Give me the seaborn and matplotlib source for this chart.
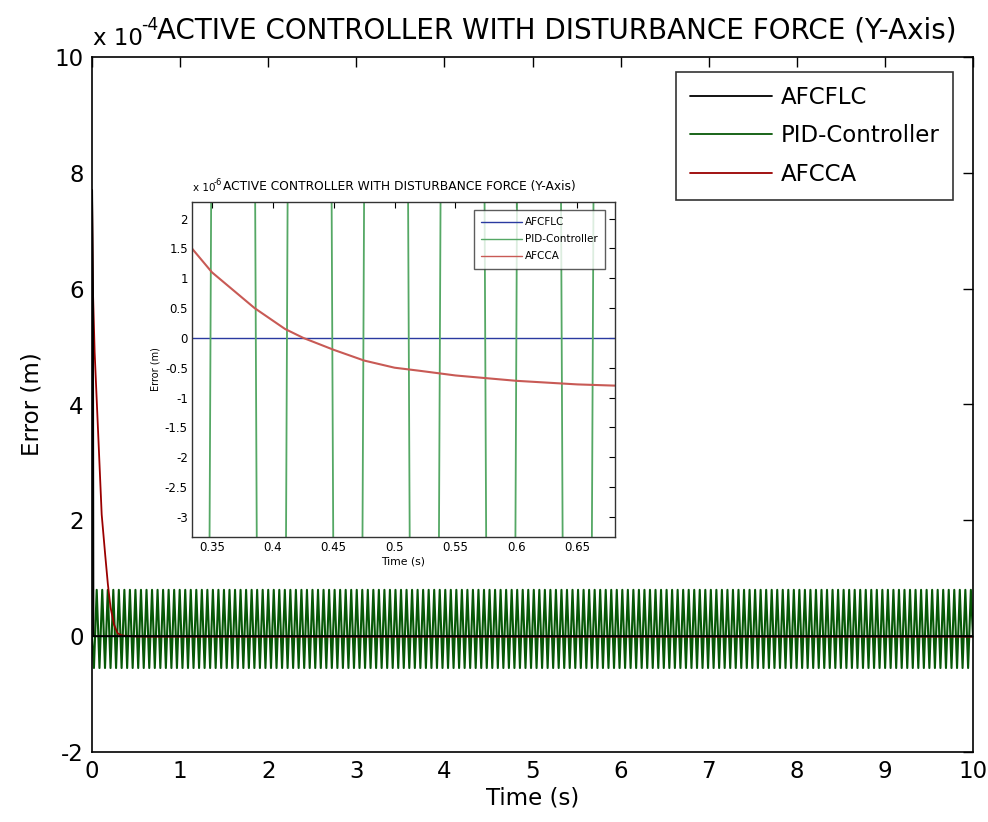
import numpy as np
import pandas as pd
import matplotlib
matplotlib.use("Agg")
import matplotlib.pyplot as plt
from matplotlib.lines import Line2D
from matplotlib.ticker import FuncFormatter
import seaborn as sns

# ---------------- data (values in metres) ----------------
afcflc_t = [0.0, 0.01, 0.015, 10.0]
afcflc_v = [7.7e-4, 6.0e-4, 0.0, 0.0]

afcca_t = [0.0, 0.01, 0.03, 0.05, 0.07, 0.09, 0.11, 0.13, 0.15, 0.18, 0.21,
           0.25, 0.29, 0.3336, 0.35, 0.385, 0.41, 0.425, 0.45, 0.475, 0.5,
           0.52, 0.55, 0.6, 0.65, 0.68, 1.0, 2.0, 10.0]
afcca_v = [7.7e-4, 6.0e-4, 4.9e-4, 4.2e-4, 3.5e-4, 2.8e-4, 2.1e-4, 1.75e-4,
           1.4e-4, 0.9e-4, 0.5e-4, 0.2e-4, 0.05e-4, 1.5e-6, 1.1e-6, 0.5e-6,
           0.15e-6, 0.0, -0.2e-6, -0.38e-6, -0.5e-6, -0.55e-6, -0.63e-6,
           -0.72e-6, -0.78e-6, -0.8e-6, -0.85e-6, -0.85e-6, -0.85e-6]

# PID-controller oscillation: peak / trough levels,
# period and the time of the first trough
pid_peak = 0.8e-4
pid_trough = -0.55e-4
pid_period = 0.0628
pid_first_trough = 0.022
t_end = 10.0

labels = ["AFCFLC", "PID-Controller", "AFCCA"]
main_colors = ["#000000", "#075807", "#9a0000"]
inset_colors = ["#2a3aa0", "#55a865", "#c85a55"]

x_ticks = list(range(0, 11))
y_ticks = [-2e-4, 0, 2e-4, 4e-4, 6e-4, 8e-4, 10e-4]
inset_x_ticks = [0.35, 0.4, 0.45, 0.5, 0.55, 0.6, 0.65]
inset_y_ticks = [-3e-6, -2.5e-6, -2e-6, -1.5e-6, -1e-6, -0.5e-6, 0, 0.5e-6,
                 1e-6, 1.5e-6, 2e-6]

# ---------------- build tables ----------------
troughs = np.arange(pid_first_trough, t_end, pid_period)
pid_t = [0.0]
pid_v = [0.0]
for tr in troughs:
    pid_t += [tr, tr + pid_period / 2]
    pid_v += [pid_trough, pid_peak]
pid_t.append(t_end)
pid_v.append(0.0)

df_flc = pd.DataFrame({"t": afcflc_t, "v": afcflc_v})
df_ca = pd.DataFrame({"t": afcca_t, "v": afcca_v})
df_pid = pd.DataFrame({"t": pid_t, "v": pid_v})

# ---------------- style ----------------
sns.set_theme(style="white")
plt.rcParams["font.family"] = ["DejaVu Sans"]
plt.rcParams["xtick.direction"] = "in"
plt.rcParams["ytick.direction"] = "in"
plt.rcParams["text.color"] = "black"
plt.rcParams["axes.labelcolor"] = "black"
plt.rcParams["xtick.color"] = "black"
plt.rcParams["ytick.color"] = "black"

fig = plt.figure(figsize=(9.88, 8.22), dpi=100)
fig.patch.set_facecolor("white")

ax = fig.add_axes([92 / 988, 1 - 752 / 822, (973 - 92) / 988, (752 - 57) / 822])

kw = dict(estimator=None, sort=False, legend=False)
sns.lineplot(data=df_pid, x="t", y="v", ax=ax, color=main_colors[1], lw=1.5, **kw)
sns.lineplot(data=df_ca, x="t", y="v", ax=ax, color=main_colors[2], lw=1.3, **kw)
sns.lineplot(data=df_flc, x="t", y="v", ax=ax, color=main_colors[0], lw=1.5, **kw)

ax.set_xlim(0, 10)
ax.set_ylim(-2e-4, 10e-4)
ax.set_xticks(x_ticks)
ax.set_yticks(y_ticks)
ax.yaxis.set_major_formatter(FuncFormatter(lambda v, p: f"{v * 1e4:g}"))
ax.tick_params(axis="both", which="major", labelsize=16.5, length=7, width=1,
               top=True, right=True, pad=6, colors="black")
for s in ax.spines.values():
    s.set_color("black")
    s.set_linewidth(1.2)
ax.set_xlabel("Time (s)", fontsize=16.5, labelpad=2)
ax.set_ylabel("Error (m)", fontsize=16.5, labelpad=8)

handles = [Line2D([], [], color=c, lw=1.3) for c in main_colors]
leg = ax.legend(handles, labels, loc="upper right", fontsize=16.5,
                bbox_to_anchor=(1 - 20 / 881, 1 - 15 / 695), borderaxespad=0,
                frameon=True, fancybox=False, edgecolor="black",
                handlelength=3.6, handletextpad=0.35, borderpad=0.6,
                labelspacing=0.68)
leg.get_frame().set_linewidth(1.2)
for t in leg.get_texts():
    t.set_color("black")

fig.text(93 / 988, 1 - 45 / 822, "x 10", fontsize=16.5, ha="left", va="baseline")
fig.text(141 / 988, 1 - 30 / 822, "-4", fontsize=12.5, ha="left", va="baseline")
fig.text(157 / 988, 1 - 38 / 822,
         "ACTIVE CONTROLLER WITH DISTURBANCE FORCE (Y-Axis)",
         fontsize=20, ha="left", va="baseline")

# ---------------- inset ----------------
ia = fig.add_axes([192 / 988, 1 - 537 / 822, (615 - 192) / 988, (537 - 202) / 822])
sns.lineplot(data=df_flc, x="t", y="v", ax=ia, color=inset_colors[0], lw=1.0, **kw)
sns.lineplot(data=df_pid, x="t", y="v", ax=ia, color=inset_colors[1], lw=1.3, **kw)
sns.lineplot(data=df_ca, x="t", y="v", ax=ia, color=inset_colors[2], lw=1.5, **kw)
ia.set_xlim(0.3336, 0.681)
ia.set_ylim(-3.34e-6, 2.28e-6)
ia.set_xticks(inset_x_ticks)
ia.set_yticks(inset_y_ticks)
ia.xaxis.set_major_formatter(FuncFormatter(lambda v, p: f"{v:g}"))
ia.yaxis.set_major_formatter(FuncFormatter(lambda v, p: f"{v * 1e6:g}"))
ia.tick_params(axis="both", labelsize=8.5, length=4, width=0.8,
               top=True, right=True, pad=3, colors="black")
for s in ia.spines.values():
    s.set_color("#333333")
    s.set_linewidth(1.0)
ia.set_xlabel("Time (s)", fontsize=7.8, labelpad=2)
ia.set_ylabel("Error (m)", fontsize=7.0, labelpad=3)

ih = [Line2D([], [], color=c, lw=1.0) for c in inset_colors]
ileg = ia.legend(ih, labels, loc="upper right", fontsize=7.5, frameon=True,
                 bbox_to_anchor=(1 - 10 / 423, 1 - 8 / 335), borderaxespad=0,
                 fancybox=False, edgecolor="#333333", handlelength=3.9,
                 handletextpad=0.3, borderpad=0.7, labelspacing=0.68)
ileg.get_frame().set_linewidth(1.0)
for t in ileg.get_texts():
    t.set_color("black")

fig.text(193 / 988, 1 - 191 / 822, "x 10", fontsize=7.5, ha="left", va="baseline")
fig.text(214 / 988, 1 - 185 / 822, "-6", fontsize=6, ha="left", va="baseline")
fig.text(223 / 988, 1 - 190 / 822,
         "ACTIVE CONTROLLER WITH DISTURBANCE FORCE (Y-Axis)",
         fontsize=8.8, ha="left", va="baseline")

fig.savefig("out.png", dpi=100, facecolor="white")
